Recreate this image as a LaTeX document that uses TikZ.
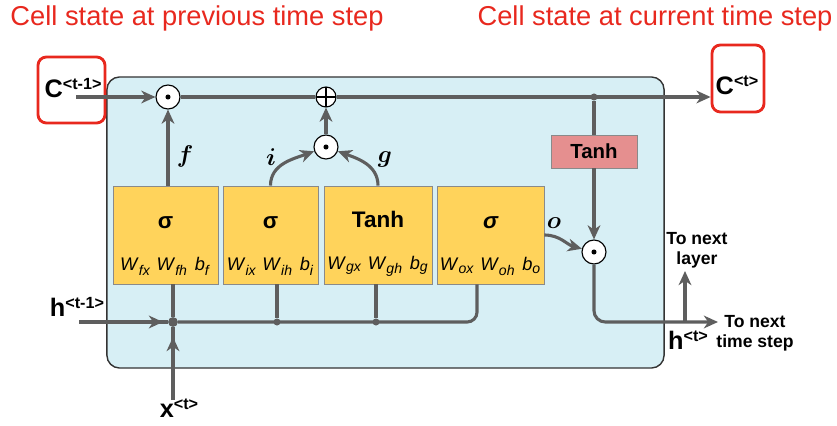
\documentclass[tikz,border=0pt]{standalone}
\usepackage{fontspec}
\setmainfont{Liberation Sans}
\usepackage{amsmath}
\usepackage{tikz}
\usepackage{xcolor}
\usetikzlibrary{arrows.meta, positioning, calc}
\definecolor{cellblue}{HTML}{D7EFF5}
\definecolor{gateyellow}{HTML}{FFD35B}
\definecolor{tanhred}{HTML}{E58F8F}
\definecolor{wiregray}{HTML}{5E5E5E}
\definecolor{edgegray}{HTML}{8A8A8A}
\definecolor{titlered}{HTML}{E8281E}
\newcommand{\wgt}[2]{\textit{#1}\textsubscript{\fontsize{10}{10}\selectfont\textit{#2}}}
\newcommand{\supl}[2]{{\fontsize{18}{18}\selectfont\bfseries #1}\raisebox{1.05ex}{\fontsize{11.5}{11.5}\selectfont\bfseries <#2>}}
\newcommand{\gatetext}[4]{\rule{0pt}{24pt}{\fontsize{16}{16}\selectfont\bfseries #1}\\[15pt]\wgt{W}{#2x}\hspace{4pt}\wgt{W}{#2h}\hspace{5pt}\wgt{b}{#3}#4}

\begin{document}
\begin{tikzpicture}[x=0.025cm, y=-0.025cm,
            wire/.style={wiregray, line width=2.2pt},
            arr/.style={wire, -{Stealth[length=10pt, width=9pt, inset=3pt]}},
            cell/.style={rectangle, rounded corners=9pt, draw=black!80, fill=cellblue, line width=1pt, minimum width=13.925cm, minimum height=7.275cm},
            gate/.style={rectangle, draw=edgegray, fill=gateyellow, line width=0.6pt, inner xsep=0pt, minimum height=2.45cm, align=center, font=\fontsize{13}{15}\selectfont},
            tanhbox/.style={rectangle, draw=edgegray, fill=tanhred, line width=0.6pt, minimum width=2.15cm, minimum height=0.825cm, font=\fontsize{14.5}{16}\selectfont\bfseries},
            odot/.style={circle, draw=black, fill=white, line width=0.8pt, minimum size=0.6cm, inner sep=0pt,
                path picture={\fill[black] (path picture bounding box.center) circle (1.8pt);}},
            oplus/.style={circle, draw=black, fill=white, line width=0.8pt, minimum size=0.5cm, inner sep=0pt,
                path picture={\draw[black, line width=0.8pt] (path picture bounding box.north) -- (path picture bounding box.south)
                    (path picture bounding box.west) -- (path picture bounding box.east);}},
            redbox/.style={rectangle, rounded corners=6pt, draw=titlered, line width=2pt},
            joint/.style={circle, fill=wiregray, minimum size=5pt, inner sep=0pt},
            lbl/.style={font=\fontsize{12.5}{14}\selectfont\bfseries, align=center},
            gl/.style={font=\fontsize{17}{17}\selectfont}]
            \useasboundingbox (0,0) rectangle (837,426);
            % titles
            \node[titlered, font=\fontsize{19.4}{21}\selectfont] (ttlprev) at (197,18) {Cell state at previous time step};
            \node[titlered, font=\fontsize{19.4}{21}\selectfont] (ttlcur) at (655,18) {Cell state at current time step};
            % cell body
            \node[cell] (body) at (385.5,222.5) {};
            % cell state in and out
            \node[redbox, minimum width=1.675cm, minimum height=1.65cm] (cpbox) at (71.5,90) {};
            \node (cprev) at (73,88) {\supl{C}{t-1}};
            \node[redbox, minimum width=1.3cm, minimum height=1.675cm] (ctbox) at (738,78.5) {};
            \node (ccur) at (737,85) {\supl{C}{t}};
            \coordinate (cin) at (76,97);
            \node[odot] (fmul) at (168,97) {};
            \node[oplus] (cadd) at (326,97) {};
            \node[odot] (imul) at (326,147) {};
            \node[joint] (ctap) at (594,97) {};
            \node[tanhbox] (tanhc) at (594,151.5) {Tanh};
            \node[odot] (omul) at (594,252) {};
            % gates
            \node[gate, minimum width=2.625cm] (fgate) at (165.5,235) {\gatetext{σ}{f}{f}{}};
            \node[gate, minimum width=2.375cm] (igate) at (270.5,235) {\gatetext{σ}{i}{i}{}};
            \node[gate, minimum width=2.7cm] (ggate) at (378,235) {\gatetext{Tanh}{g}{g}{}};
            \node[gate, minimum width=2.675cm] (ogate) at (490.5,235) {\gatetext{\itshape σ}{o}{o}{}};
            % inputs
            \node[joint, minimum size=7pt] (jn) at (173,322) {};
            \coordinate (hin) at (79,322);
            \coordinate (xin) at (173,400);
            \node[joint] (ijoin) at (277,322) {};
            \node[joint] (gjoin) at (376,322) {};
            \node (hprev) at (77,307) {\supl{h}{t-1}};
            \node (xcur) at (179,408) {\supl{x}{t}};
            % outputs
            \coordinate (hout) at (718,322);
            \coordinate (hsplit) at (685,322);
            \coordinate (hup) at (685,271);
            \node (hcur) at (688,340) {\supl{h}{t}};
            \node[lbl] (nxtlayer) at (697,250) {To next\\layer};
            \node[lbl] (nxtstep) at (755,333) {To next\\time step};
            % gate labels
            \node[gl] (flbl) at (185,156) {$\boldsymbol{f}$};
            \node[gl] (ilbl) at (271,157) {$\boldsymbol{i}$};
            \node[gl] (glbl) at (385,159) {$\boldsymbol{g}$};
            \node[gl] (olbl) at (554,223) {$\boldsymbol{o}$};
            % cell state line
            \draw[arr] (cin) -- (fmul);
            \draw[wire] (fmul) -- (cadd);
            \draw[arr] (cadd) -- (cadd -| ctbox.west);
            \draw[arr] (fgate.north -| fmul) -- (fmul);
            \draw[arr] (igate.north) to[out=90, in=200] (imul);
            \draw[arr] (ggate.north) to[out=90, in=-20] (imul);
            \draw[arr] (imul) -- (cadd);
            \draw[wire] (ctap) -- (tanhc);
            \draw[arr] (tanhc) -- (omul);
            \draw[arr] (ogate.east) to[out=0, in=165] (omul);
            % hidden state
            \draw[wire] (hin) -- (jn);
            \draw[arr] (hin) -- ($(jn)+(-10,0)$);
            \draw[wire] (xin) -- (jn);
            \draw[arr] (xin) -- ($(jn)+(0,15)$);
            \draw[wire] (fgate.south -| jn) -- (jn);
            \draw[wire] (igate.south -| ijoin) -- (ijoin);
            \draw[wire] (ggate.south -| gjoin) -- (gjoin);
            \draw[wire, rounded corners=7pt] (jn) -| ($(ogate.south)+(-13.5,0)$);
            \draw[arr, rounded corners=8pt] (omul) |- (hout);
            \draw[arr] (hsplit) -- (hup);
        \end{tikzpicture}
\end{document}
